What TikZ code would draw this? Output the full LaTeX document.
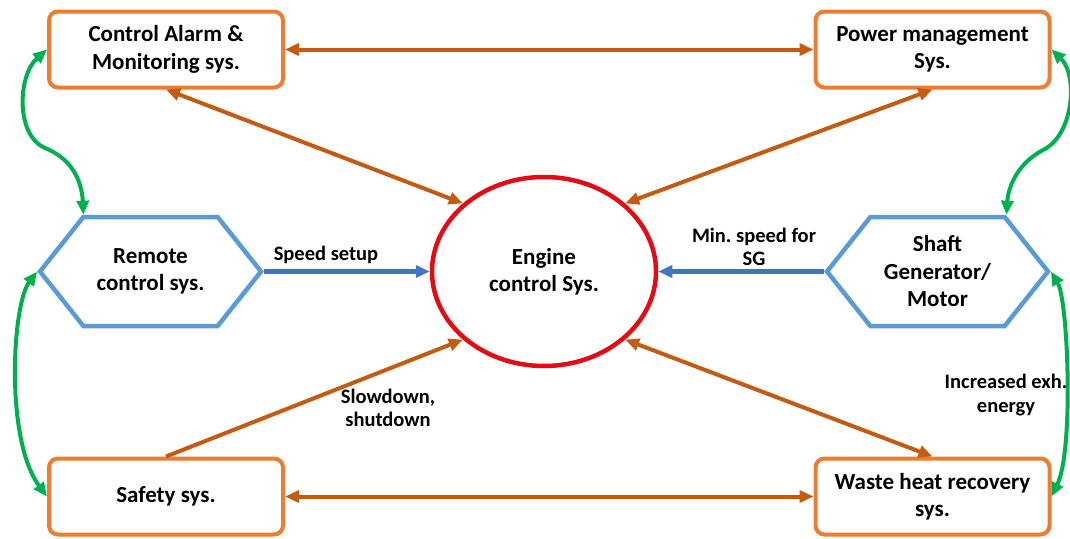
\documentclass[tikz,border=0pt]{standalone}
\usepackage{fontspec}
\setmainfont{Carlito}
\frenchspacing
\usetikzlibrary{arrows.meta,shapes.symbols,shapes.geometric,calc}

\definecolor{boxorange}{RGB}{237,125,49}
\definecolor{linkorange}{RGB}{197,90,17}
\definecolor{hexblue}{RGB}{91,155,213}
\definecolor{linkblue}{RGB}{68,114,196}
\definecolor{ecsred}{RGB}{226,12,22}
\definecolor{linkgreen}{RGB}{0,176,80}

\begin{document}
\begin{tikzpicture}[
  x=1pt, y=-1pt,
  >={Triangle[length=14pt,width=12pt]},
  every node/.style={font=\bfseries\fontsize{23}{27.5}\selectfont, align=center, inner sep=0pt},
  sysbox/.style={draw=boxorange, line width=4pt, rounded corners=9pt,
    minimum width=234pt, minimum height=76pt},
  hexbox/.style={draw=hexblue, line width=4.5pt, shape=signal,
    signal to=west and east, signal pointer angle=103,
    minimum width=221pt, minimum height=109pt},
  ecs/.style={draw=ecsred, line width=4.5pt, ellipse,
    minimum width=224pt, minimum height=189pt},
  lbl/.style={font=\bfseries\fontsize{20.5}{23.5}\selectfont},
  orangelink/.style={draw=linkorange, line width=4pt, <->},
  orangeone/.style={draw=linkorange, line width=4pt, ->},
  bluelink/.style={draw=linkblue, line width=4.5pt, ->},
  greenlink/.style={draw=linkgreen, line width=4pt, <->},
]
\useasboundingbox (0,0) rectangle (1070,538);

% systems round the engine
\node[sysbox] (cam) at (166,49.5) {Control Alarm \&\\Monitoring sys.};
\node[sysbox] (pms) at (932.5,49.5) {Power management\\Sys.};
\node[hexbox] (rcs) at (150.5,271.5) {Remote\\control sys.};
\node[hexbox] (sgm) at (937.5,271.5) {Shaft\\Generator/\\Motor};
\node[sysbox] (saf) at (166,496.5) {Safety sys.};
\node[sysbox] (whr) at (932.5,496.5) {Waste heat recovery\\sys.};
\node[ecs] (eng) at (544,271.5) {Engine\\control Sys.};

% labels
\node[lbl] (speedlbl) at (326,255) {Speed setup};
\node[lbl] (minlbl) at (754,247) {Min. speed for\\SG};
\node[lbl] (slowlbl) at (388,408) {Slowdown,\\shutdown};
\node[lbl] (exhlbl) at (1006,395) {Increased exh.\\energy};

%============================================================
\path[orangelink] (cam.east) -- (pms.west);
\path[orangelink] (saf.east) -- (whr.west);
\path[orangelink] (cam.south) -- (eng.140);
\path[orangelink] (pms.south) -- (eng.40);
\path[orangelink] (whr.north) -- (eng.320);
\path[orangeone] (saf.north) -- (eng.220);
%============================================================
\path[bluelink] (rcs.east) -- (eng.west);
\path[bluelink] (sgm.west) -- (eng.east);
%============================================================
\path[greenlink] (cam.west) .. controls (18,75) and (15,135) .. (45,148)
  .. controls (75,160) and (82,185) .. ($(rcs.north)+(-67,0)$);
\path[greenlink] (rcs.west) .. controls (12,305) and (5,440) .. (saf.west);
\path[greenlink] (pms.east) .. controls (1078,75) and (1074,135) .. (1043,150)
  .. controls (1015,165) and (1008,190) .. ($(sgm.north)+(69,0)$);
\path[greenlink] (sgm.east) .. controls (1068,300) and (1074,450) .. (whr.east);

\end{tikzpicture}
\end{document}
